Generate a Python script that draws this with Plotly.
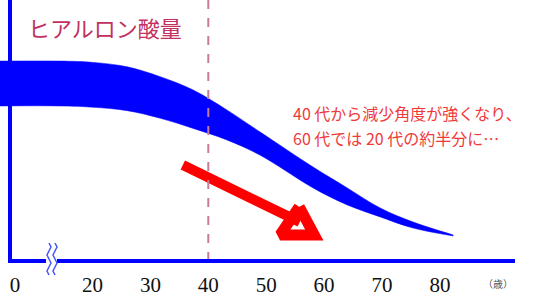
import plotly.graph_objects as go

# ---- data (age in years, level in arbitrary units 0-100) ----
band_age = [4.0, 14.4, 20.1, 26.0, 31.7, 37.4, 43.2, 48.9, 58.1, 64.0, 69.7, 75.4, 82.3]
band_upper = [76.6, 76.6, 76.1, 74.4, 70.6, 65.5, 57.9, 49.5, 36.0, 28.0, 20.3, 14.9, 10.0]
band_lower = [59.4, 59.4, 58.9, 57.6, 54.7, 50.8, 46.4, 40.6, 28.0, 21.5, 16.9, 12.6, 9.6]

tick_vals = [6.6, 20, 30, 40, 50, 60, 70, 80]
tick_text = ["0", "20", "30", "40", "50", "60", "70", "80"]

marker_age = 40

arrow_shaft_age = [35.6, 55.8]
arrow_shaft_level = [36.8, 14.9]
arrow_head_age = [55.7, 52.4, 58.3, 55.7]
arrow_head_level = [20.7, 10.0, 10.0, 20.7]

W, H = 533, 300
PLOT_B = 39
PH = H - PLOT_B
PX_PER_YEAR = 5.79
X0_AGE = 20 - 92.5 / PX_PER_YEAR
X1_AGE = X0_AGE + W / PX_PER_YEAR


def px(p):
    return p / W


def py(p):
    return (PH - p) / PH


fig = go.Figure()

fig.add_trace(go.Scatter(x=band_age, y=band_lower, mode="lines",
                         line=dict(color="#0000ff", width=0.5, shape="spline", smoothing=1),
                         hoverinfo="skip", showlegend=False))
fig.add_trace(go.Scatter(x=band_age, y=band_upper, mode="lines",
                         line=dict(color="#0000ff", width=0.5, shape="spline", smoothing=1),
                         fill="tonexty", fillcolor="#0000ff",
                         hoverinfo="skip", showlegend=False))

fig.add_trace(go.Scatter(x=arrow_shaft_age, y=arrow_shaft_level, mode="lines",
                         line=dict(color="#ff0000", width=10),
                         hoverinfo="skip", showlegend=False))
fig.add_trace(go.Scatter(x=arrow_head_age, y=arrow_head_level, mode="lines",
                         line=dict(color="#ff0000", width=11),
                         hoverinfo="skip", showlegend=False))

shapes = []
# dashed 40 marker
shapes.append(dict(type="line", xref="x", yref="paper", x0=marker_age, x1=marker_age,
                   y0=0, y1=1, line=dict(color="#c87a9a", width=2, dash="dash"), layer="above"))
# vertical axis
shapes.append(dict(type="line", xref="paper", yref="paper", x0=px(10), x1=px(10),
                   y0=py(263), y1=1, line=dict(color="#0000ff", width=4)))
# horizontal axis with break
shapes.append(dict(type="line", xref="paper", yref="paper", x0=px(8), x1=px(46),
                   y0=py(261), y1=py(261), line=dict(color="#0000ff", width=4)))
shapes.append(dict(type="line", xref="paper", yref="paper", x0=px(57), x1=px(515),
                   y0=py(261), y1=py(261), line=dict(color="#0000ff", width=4)))
# wavy break marks
for cx in (49, 55):
    pts = []
    ys = [243, 247, 251, 255, 259, 263, 267, 271, 275]
    offs = [0, 2, 0, -2, 0, 2, 0, -2, 0]
    for yy, o in zip(ys, offs):
        pts.append((px(cx + o), py(yy)))
    path = "M " + " L ".join(f"{a:.5f},{b:.5f}" for a, b in pts)
    shapes.append(dict(type="path", xref="paper", yref="paper", path=path,
                       line=dict(color="#4455ff", width=1.5)))

annotations = [
    dict(text="ヒアルロン酸量", xref="paper", yref="paper", x=px(26), y=py(27),
         xanchor="left", yanchor="middle", showarrow=False,
         font=dict(family="Noto Sans CJK JP", size=22, color="#c2305f")),
    dict(text="40 代から減少角度が強くなり、", xref="paper", yref="paper", x=px(291), y=py(113),
         xanchor="left", yanchor="middle", showarrow=False,
         font=dict(family="Noto Sans CJK JP", size=16, color="#f03a3a")),
    dict(text="60 代では 20 代の約半分に…", xref="paper", yref="paper", x=px(291), y=py(138),
         xanchor="left", yanchor="middle", showarrow=False,
         font=dict(family="Noto Sans CJK JP", size=16, color="#f03a3a")),
    dict(text="（歳）", xref="paper", yref="paper", x=px(498), y=py(283),
         xanchor="center", yanchor="middle", showarrow=False,
         font=dict(family="Noto Sans CJK JP", size=10, color="#555555")),
]

fig.update_layout(
    width=W, height=H,
    margin=dict(l=0, r=0, t=0, b=PLOT_B),
    paper_bgcolor="white", plot_bgcolor="white",
    shapes=shapes, annotations=annotations,
    xaxis=dict(range=[X0_AGE, X1_AGE], showgrid=False, zeroline=False, showline=False,
               tickmode="array", tickvals=tick_vals, ticktext=tick_text,
               ticks="outside", ticklen=5, tickcolor="rgba(0,0,0,0)",
               tickfont=dict(family="Liberation Serif", size=21, color="#111111")),
    yaxis=dict(range=[0, 100], showgrid=False, zeroline=False, showline=False,
               showticklabels=False),
)

fig.write_html("out.html")
